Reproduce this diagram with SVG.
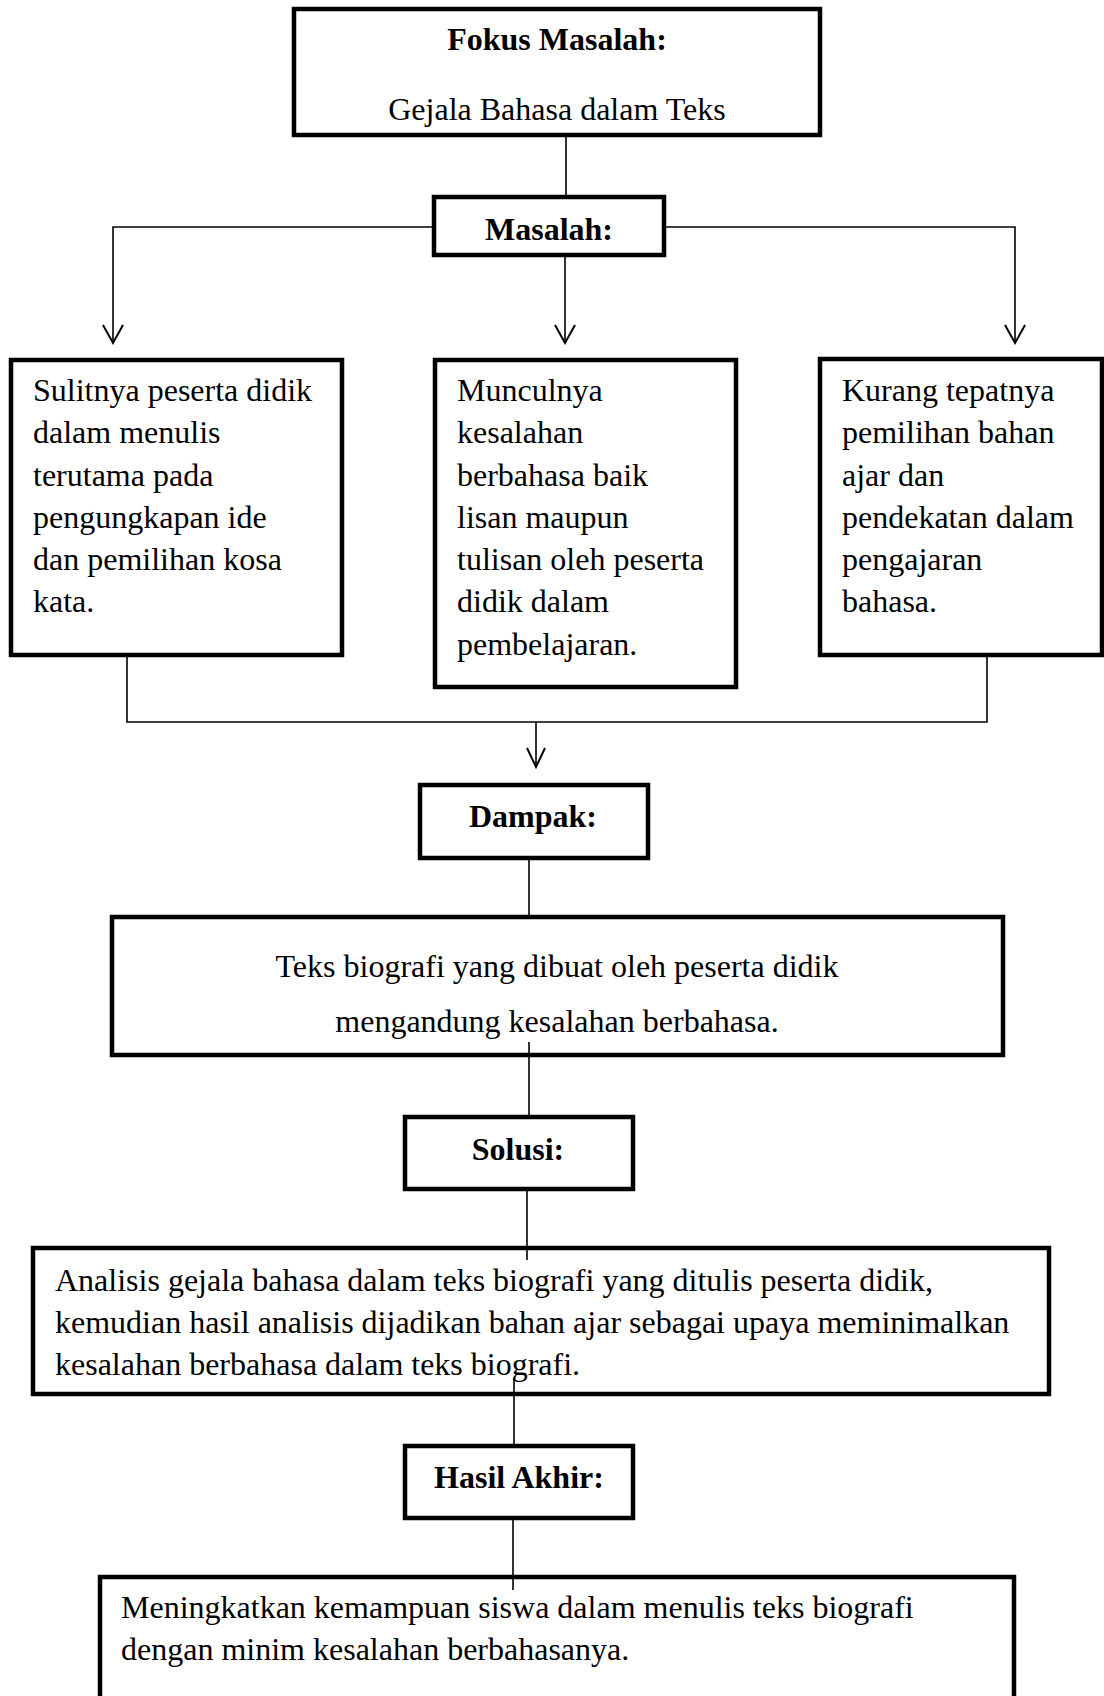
<svg xmlns="http://www.w3.org/2000/svg" width="1104" height="1696" viewBox="0 0 1104 1696">
<style>
.box{fill:#fff;stroke:#000;stroke-width:4.5}
.t{font-family:"Liberation Serif","Times New Roman",serif;font-size:32px;fill:#000}
.b{font-weight:bold}
.c{text-anchor:middle}
.ln{stroke:#000;stroke-width:1.6;fill:none}
.ar{stroke:#000;stroke-width:2;fill:none}
</style>
<rect width="1104" height="1696" fill="#fff"/>
<g id="fokus">
<rect class="box" x="294" y="9" width="526" height="126"/>
<text class="t b c" x="557" y="50">Fokus Masalah:</text>
<text class="t c" x="557" y="120">Gejala Bahasa dalam Teks</text>
</g>
<g id="masalah">
<rect class="box" x="434" y="197" width="230" height="58"/>
<text class="t b c" x="549" y="240">Masalah:</text>
</g>
<g id="masalah1">
<rect class="box" x="11" y="360" width="331" height="295"/>
<text class="t" x="33" y="401">Sulitnya peserta didik</text>
<text class="t" x="33" y="443">dalam menulis</text>
<text class="t" x="33" y="486">terutama pada</text>
<text class="t" x="33" y="528">pengungkapan ide</text>
<text class="t" x="33" y="570">dan pemilihan kosa</text>
<text class="t" x="33" y="612">kata.</text>
</g>
<g id="masalah2">
<rect class="box" x="435" y="360" width="301" height="327"/>
<text class="t" x="457" y="401">Munculnya</text>
<text class="t" x="457" y="443">kesalahan</text>
<text class="t" x="457" y="486">berbahasa baik</text>
<text class="t" x="457" y="528">lisan maupun</text>
<text class="t" x="457" y="570">tulisan oleh peserta</text>
<text class="t" x="457" y="612">didik dalam</text>
<text class="t" x="457" y="655">pembelajaran.</text>
</g>
<g id="masalah3">
<rect class="box" x="820" y="359" width="282" height="296"/>
<text class="t" x="842" y="401">Kurang tepatnya</text>
<text class="t" x="842" y="443">pemilihan bahan</text>
<text class="t" x="842" y="486">ajar dan</text>
<text class="t" x="842" y="528">pendekatan dalam</text>
<text class="t" x="842" y="570">pengajaran</text>
<text class="t" x="842" y="612">bahasa.</text>
</g>
<g id="dampak">
<rect class="box" x="420" y="785" width="228" height="73"/>
<text class="t b c" x="533" y="827">Dampak:</text>
</g>
<g id="dampak-isi">
<rect class="box" x="112" y="917" width="891" height="138"/>
<text class="t c" x="557" y="977">Teks biografi yang dibuat oleh peserta didik</text>
<text class="t c" x="557" y="1032">mengandung kesalahan berbahasa.</text>
</g>
<g id="solusi">
<rect class="box" x="405" y="1117" width="228" height="72"/>
<text class="t b c" x="518" y="1160">Solusi:</text>
</g>
<g id="solusi-isi">
<rect class="box" x="33" y="1248" width="1016" height="146"/>
<text class="t" x="55" y="1291">Analisis gejala bahasa dalam teks biografi yang ditulis peserta didik,</text>
<text class="t" x="55" y="1333">kemudian hasil analisis dijadikan bahan ajar sebagai upaya meminimalkan</text>
<text class="t" x="55" y="1375">kesalahan berbahasa dalam teks biografi.</text>
</g>
<g id="hasil">
<rect class="box" x="405" y="1446" width="228" height="72"/>
<text class="t b c" x="519" y="1488">Hasil Akhir:</text>
</g>
<g id="hasil-isi">
<rect class="box" x="100" y="1577" width="914" height="140"/>
<text class="t" x="121" y="1618">Meningkatkan kemampuan siswa dalam menulis teks biografi</text>
<text class="t" x="121" y="1660">dengan minim kesalahan berbahasanya.</text>
</g>
<g id="connectors">
<line class="ln" x1="566" y1="137" x2="566" y2="195"/>
<polyline class="ln" points="432,227 113,227 113,342"/>
<polyline class="ar" points="103,325 113,343 123,325"/>
<line class="ln" x1="565" y1="257" x2="565" y2="342"/>
<polyline class="ar" points="555,325 565,343 575,325"/>
<polyline class="ln" points="666,227 1015,227 1015,342"/>
<polyline class="ar" points="1005,325 1015,343 1025,325"/>
<polyline class="ln" points="127,657 127,722 987,722 987,657"/>
<line class="ln" x1="536" y1="722" x2="536" y2="766"/>
<polyline class="ar" points="527,748 536,767 545,748"/>
<line class="ln" x1="529" y1="860" x2="529" y2="915"/>
<line class="ln" x1="529" y1="1042" x2="529" y2="1115"/>
<line class="ln" x1="527" y1="1191" x2="527" y2="1260"/>
<line class="ln" x1="514" y1="1378" x2="514" y2="1444"/>
<line class="ln" x1="513" y1="1520" x2="513" y2="1590"/>
</g>
</svg>
